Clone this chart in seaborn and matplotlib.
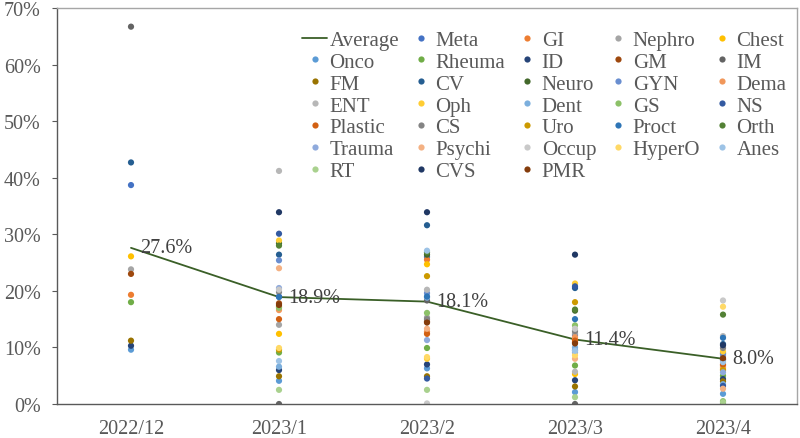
import numpy as np
import pandas as pd
import seaborn as sns
import matplotlib.pyplot as plt
from matplotlib.ticker import PercentFormatter

months = ['2022/12', '2023/1', '2023/2', '2023/3', '2023/4']
average = [27.6, 18.9, 18.1, 11.4, 8.0]

depts = ['Meta', 'GI', 'Nephro', 'Chest', 'Onco', 'Rheuma', 'ID', 'GM', 'IM', 'FM',
         'CV', 'Neuro', 'GYN', 'Dema', 'ENT', 'Oph', 'Dent', 'GS', 'NS', 'Plastic',
         'CS', 'Uro', 'Proct', 'Orth', 'Trauma', 'Psychi', 'Occup', 'HyperO', 'Anes', 'RT',
         'CVS', 'PMR']

colors = ['#4472C4', '#ED7D31', '#A5A5A5', '#FFC000', '#5B9BD5', '#70AD47', '#264478', '#9E480E',
          '#636363', '#997300', '#255E91', '#43682B', '#698ED0', '#F1975A', '#B7B7B7', '#FFCD33',
          '#7CAFDD', '#8CC168', '#335AA1', '#D26012', '#848484', '#CC9A00', '#2E75B6', '#538135',
          '#8FAADC', '#F4B183', '#C9C9C9', '#FFD966', '#9DC3E6', '#A9D18E', '#203864', '#843C0C']

nan = np.nan
# one list per month, same order as depts
dec = [38.7, 19.3, 23.8, 26.1, 9.6, 18.0, 10.3, 23.0, 66.7, 11.2,
       42.7, nan, nan, nan, nan, nan, nan, nan, nan, nan,
       nan, nan, nan, nan, nan, nan, nan, nan, nan, nan, nan, nan]
jan = [19.0, 17.2, 14.0, 12.4, 4.1, 9.1, 6.0, 17.8, 0.0, 4.9,
       26.4, 28.4, 25.4, 16.6, 41.2, 28.9, 6.6, 17.0, 30.1, 15.0,
       19.8, 9.6, 18.9, 28.0, 20.5, 24.0, 20.2, 9.9, 7.6, 2.5, 33.9, 17.5]
feb = [26.0, 25.5, 15.3, 24.7, 6.3, 9.9, 7.0, 14.6, 18.3, 4.9,
       31.6, 26.4, 19.6, 12.8, 20.2, 8.0, 18.8, 16.1, 4.5, 12.4,
       15.0, 22.6, 19.0, 26.8, 11.3, 13.3, 0.1, 8.3, 27.1, 2.5, 33.9, 14.4]
mar = [12.2, 11.5, 12.5, 5.3, 2.1, 6.8, 4.2, 10.9, 0.0, 3.1,
       20.5, 16.5, 9.5, 11.8, 5.7, 21.3, 10.0, 13.9, 20.8, 11.2,
       12.9, 18.0, 15.0, 16.7, 9.1, 8.0, 13.3, 8.6, 9.4, 1.2, 26.4, 10.7]
apr = [7.8, 6.8, 8.5, 6.2, 1.8, 5.0, 4.4, 7.9, 0.0, 4.0,
       10.6, 9.0, 8.8, 6.5, 12.0, 9.3, 3.5, 0.5, 3.2, 7.0,
       9.9, 6.0, 11.7, 15.8, 5.6, 2.7, 18.3, 17.2, 7.4, 0.3, 10.4, 8.1]

rows = []
for m, vals in zip(months, [dec, jan, feb, mar, apr]):
    for d, v in zip(depts, vals):
        if not np.isnan(v):
            rows.append((m, d, v))
df = pd.DataFrame(rows, columns=['month', 'dept', 'value'])
avg_df = pd.DataFrame({'month': months, 'value': average})

sns.set_style('white')
plt.rcParams['font.family'] = ['Liberation Serif', 'DejaVu Serif']

fig = plt.figure(figsize=(8, 4.39), dpi=100)
ax = fig.add_axes([57 / 800, 34 / 439, 740 / 800, 396 / 439])

sns.lineplot(data=avg_df, x='month', y='value', ax=ax, color='#3A5F27', lw=1.3,
             label='Average', zorder=1)
sns.scatterplot(data=df, x='month', y='value', hue='dept', hue_order=depts,
                palette=dict(zip(depts, colors)), s=20, linewidth=0, ax=ax, zorder=2)

for i, v in enumerate(average):
    ax.annotate(f'{v:.1f}%', (i, v), xytext=(6.5, 0), textcoords='offset points',
                ha='left', va='center', fontsize=14.5, color='#404040')

ax.set_xlim(-0.5, 4.5)
ax.set_ylim(0, 70)
ax.set_yticks(range(0, 71, 10))
ax.yaxis.set_major_formatter(PercentFormatter(decimals=0))
ax.set_xlabel('')
ax.set_ylabel('')
ax.tick_params(axis='y', length=3.6, width=0.8, color='#595959', labelsize=14.5,
               labelcolor='#595959', left=True, pad=8)
ax.tick_params(axis='x', length=0, labelsize=14.5, labelcolor='#595959', pad=11)
for side in ['left', 'bottom']:
    ax.spines[side].set_color('#595959')
    ax.spines[side].set_linewidth(1.0)
for side in ['top', 'right']:
    ax.spines[side].set_color('#A6A6A6')
    ax.spines[side].set_linewidth(1.0)

# Excel fills the legend row by row; matplotlib fills column by column
handles, labels = ax.get_legend_handles_labels()
lookup = dict(zip(labels, handles))
order = ['Average'] + depts
ncol = 5
new_order = []
for c in range(ncol):
    new_order += order[c::ncol]
ax.legend([lookup[l] for l in new_order], new_order, ncol=ncol, loc='upper right',
          bbox_to_anchor=(1.0, 0.97), frameon=False, fontsize=15, labelcolor='#595959',
          handlelength=1.2, handletextpad=0.1, columnspacing=0.45, labelspacing=0.11,
          borderaxespad=0.1, markerscale=1.0)

fig.savefig('out.png', dpi=100)
